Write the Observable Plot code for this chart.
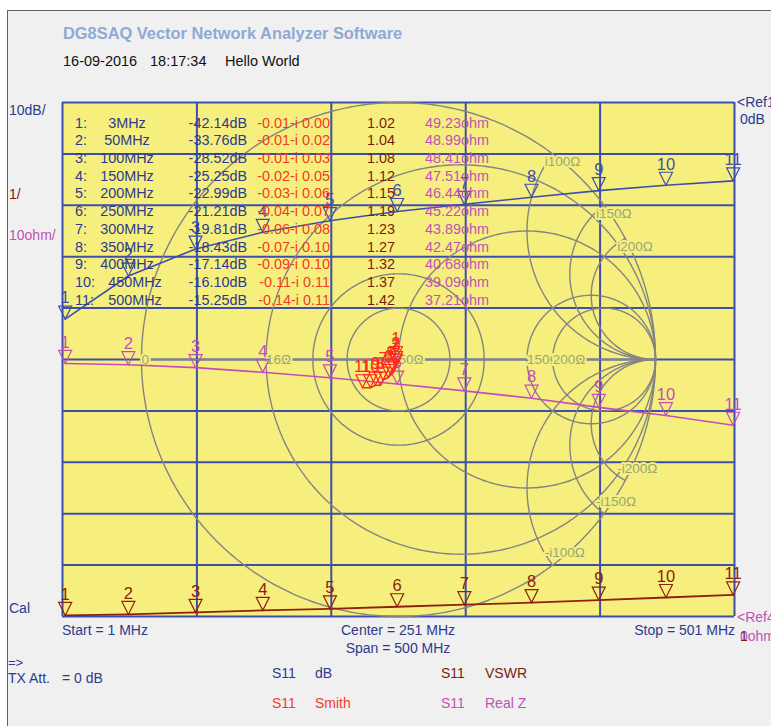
<!DOCTYPE html>
<html><head><meta charset="utf-8">
<script src="https://cdn.jsdelivr.net/npm/d3@7"></script>
<script src="https://cdn.jsdelivr.net/npm/@observablehq/plot@0.6"></script>
<style>
body{margin:0;background:#fff;}
#root{position:relative;width:771px;height:726px;overflow:hidden;background:#fff;font-family:"Liberation Sans",Arial,sans-serif;}
#panel{position:absolute;left:7px;top:10px;right:0;bottom:0;background:#f0f0f0;border-left:1px solid #5e5e5e;border-top:1px solid #5e5e5e;}
#chart{position:absolute;left:0;top:0;}
.t{position:absolute;line-height:1;white-space:pre;}
</style></head><body><div id="root"><div id="panel"></div><div id="chart"></div></div>
<script>
// ---- data ----
const markerFreqs = [3, 50, 100, 150, 200, 250, 300, 350, 400, 450, 500];           // MHz
const s11dB      = [-42.14, -33.76, -28.52, -25.25, -22.99, -21.21, -19.81, -18.43, -17.14, -16.10, -15.25];
const smithRe    = [-0.01, -0.01, -0.01, -0.02, -0.03, -0.04, -0.06, -0.07, -0.09, -0.11, -0.14];
const smithIm    = [0.00, -0.02, -0.03, -0.05, -0.06, -0.07, -0.08, -0.10, -0.10, -0.11, -0.11];
const vswr       = [1.02, 1.04, 1.08, 1.12, 1.15, 1.19, 1.23, 1.27, 1.32, 1.37, 1.42];
const realZ      = [49.23, 48.99, 48.41, 47.51, 46.44, 45.22, 43.89, 42.47, 40.68, 39.09, 37.21];

const fStart = 1, fStop = 501;
const gridFreqs = [1, 101, 201, 301, 401, 501];
const gridDivs = [0,1,2,3,4,5,6,7,8,9,10];
const dbRef = 0, dbPerDiv = 10;      // reference at top
const vswrRef = 1, vswrPerDiv = 1;   // reference at bottom
const zRef = 0, zPerDiv = 10;        // reference at bottom

// Smith chart grid (normalised to 50 ohm)
const resCircles = [0, 0.32, 1, 3, 4];
const resLabels = ["0", "16Ω", "50Ω", "150Ω", "200Ω"];
const reactArcs = [2, 3, 4, -2, -3, -4];
const reactLabels = ["i100Ω", "i150Ω", "i200Ω", "-i100Ω", "-i150Ω", "-i200Ω"];
const gammaCircles = [0.2, 1/3];

// ---- colours ----
const BLUE = "#3d4fab", TBLUE = "#2d3a8e", RED = "#ff2a1c", TRED = "#f23b25",
      BROWN = "#8f200d", TBROWN = "#7b1d0d", MAG = "#c54cbc", TMAG = "#c152b6",
      YEL = "#f6ef7e", GREY = "#848484", LBL = "#97a67a";

// ---- layout ----
const W = 771, H = 726, mT = 102, mB = 110, mL = 62, mR = 37;
const plotW = W - mL - mR, plotH = H - mT - mB;
const centerF = (fStart + fStop) / 2;
const halfF = (plotH / 2) * (fStop - fStart) / plotW;   // Smith radius expressed in x units
const sx = g => centerF + g * halfF;
const sy = g => 5 + g * 5;

const divDB = v => 10 + (v - dbRef) / dbPerDiv;
const divVSWR = v => (v - vswrRef) / vswrPerDiv;
const divZ = v => (v - zRef) / zPerDiv;

const rows = markerFreqs.map((f, i) => ({
  n: i + 1, f, db: s11dB[i], re: smithRe[i], im: smithIm[i], vswr: vswr[i], z: realZ[i]
}));

// Smith grid geometry
const grid = [];
resCircles.forEach((r, k) => {
  const c = r / (1 + r), rad = 1 / (1 + r);
  for (let a = 0; a <= 360; a += 1) {
    const t = a * Math.PI / 180;
    grid.push({id: "r" + k, gr: c + rad * Math.cos(t), gi: rad * Math.sin(t)});
  }
});
gammaCircles.forEach((g, k) => {
  for (let a = 0; a <= 360; a += 1) {
    const t = a * Math.PI / 180;
    grid.push({id: "g" + k, gr: g * Math.cos(t), gi: g * Math.sin(t)});
  }
});
const reactEnds = reactArcs.map(x => ({x, gr: (x*x - 1) / (x*x + 1), gi: 2*x / (x*x + 1)}));
reactArcs.forEach((x, k) => {
  const cy = 1 / x, rad = 1 / Math.abs(x);
  const e = reactEnds[k];
  let ae = Math.atan2(e.gi - cy, e.gr - 1) * 180 / Math.PI; if (ae < 0) ae += 360;
  const a1 = x > 0 ? 270 : 90;
  const lo = Math.min(ae, a1), hi = Math.max(ae, a1);
  for (let s = 0; s <= 200; s++) {
    const t = (lo + (hi - lo) * s / 200) * Math.PI / 180;
    grid.push({id: "x" + k, gr: 1 + rad * Math.cos(t), gi: cy + rad * Math.sin(t)});
  }
});
grid.push({id: "axis", gr: -1, gi: 0}, {id: "axis", gr: 1, gi: 0});

const resLabelData = resCircles.map((r, k) => ({gr: (r - 1) / (r + 1), gi: 0, t: resLabels[k]}));
const reactLabelData = reactEnds.map((e, k) => ({...e, t: reactLabels[k]}));

// downward pointing marker triangle, tip on the data point
const downTri = {draw(ctx) { ctx.moveTo(-6.5, -13); ctx.lineTo(6.5, -13); ctx.lineTo(0, 0); ctx.closePath(); }};
const MF = "'Liberation Sans Narrow','Liberation Sans',Arial,sans-serif";

function markers(xf, yf, color) {
  return [
    Plot.dot(rows, {x: xf, y: yf, symbol: downTri, stroke: color, strokeWidth: 1.2, fill: "none"}),
    Plot.text(rows, {x: xf, y: yf, text: d => String(d.n), fill: color, dy: -21, fontSize: 16.5, fontFamily: MF, letterSpacing: -0.8})
  ];
}

const chart = Plot.plot({
  width: W, height: H,
  marginTop: mT, marginBottom: mB, marginLeft: mL, marginRight: mR,
  style: {background: "transparent", overflow: "visible"},
  x: {domain: [fStart, fStop], axis: null},
  y: {domain: [0, 10], axis: null},
  marks: [
    Plot.frame({fill: YEL, stroke: "none"}),
    Plot.ruleX(gridFreqs, {stroke: BLUE, strokeWidth: 2}),
    Plot.ruleY(gridDivs, {stroke: BLUE, strokeWidth: 2}),
    Plot.line(grid, {x: d => sx(d.gr), y: d => sy(d.gi), z: "id", stroke: GREY, strokeWidth: 1.4}),
    Plot.text(resLabelData, {x: d => sx(d.gr), y: d => sy(d.gi), text: "t", textAnchor: "start", dx: 0,
      fill: LBL, stroke: YEL, strokeWidth: 4, paintOrder: "stroke", fontSize: 13.5, fontFamily: "Liberation Sans, Arial"}),
    Plot.text(reactLabelData.filter(d => d.x > 0), {x: d => sx(d.gr), y: d => sy(d.gi), text: "t", textAnchor: "start", dx: -8, dy: 8,
      fill: LBL, stroke: YEL, strokeWidth: 4, paintOrder: "stroke", fontSize: 13.5, fontFamily: "Liberation Sans, Arial"}),
    Plot.text(reactLabelData.filter(d => d.x < 0), {x: d => sx(d.gr), y: d => sy(d.gi), text: "t", textAnchor: "start", dx: -8, dy: -12,
      fill: LBL, stroke: YEL, strokeWidth: 4, paintOrder: "stroke", fontSize: 13.5, fontFamily: "Liberation Sans, Arial"}),
    // traces
    Plot.line(rows, {x: "f", y: d => divZ(d.z), stroke: MAG, strokeWidth: 1.6}),
    ...markers("f", d => divZ(d.z), MAG),
    Plot.line(rows, {x: "f", y: d => divVSWR(d.vswr), stroke: BROWN, strokeWidth: 1.8}),
    ...markers("f", d => divVSWR(d.vswr), BROWN),
    Plot.line(rows, {x: "f", y: d => divDB(d.db), stroke: BLUE, strokeWidth: 1.6}),
    ...markers("f", d => divDB(d.db), BLUE),
    Plot.line(rows, {x: d => sx(d.re), y: d => sy(d.im), stroke: RED, strokeWidth: 1.6}),
    ...markers(d => sx(d.re), d => sy(d.im), RED)
  ]
});
document.getElementById("chart").appendChild(chart);

// ---- text overlays ----
const root = document.getElementById("root");
function put(text, x, yc, {size = 14, color = TBLUE, anchor = "start", weight = "normal", font} = {}) {
  const s = document.createElement("span");
  s.className = "t";
  s.textContent = text;
  s.style.fontSize = size + "px";
  s.style.color = color;
  s.style.fontWeight = weight;
  if (font) s.style.fontFamily = font;
  s.style.left = x + "px";
  s.style.top = (yc - size / 2) + "px";
  if (anchor === "end") s.style.transform = "translateX(-100%)";
  if (anchor === "middle") s.style.transform = "translateX(-50%)";
  root.appendChild(s);
}

put("DG8SAQ Vector Network Analyzer Software", 63, 33.5, {size: 16.4, color: "#8eaad4", weight: "bold"});
put("16-09-2016", 63, 61.5, {size: 14.5, color: "#111"});
put("18:17:34", 150, 61.5, {size: 14.5, color: "#111"});
put("Hello World", 225, 61.5, {size: 14.5, color: "#111"});

// scale annotations
put("10dB/", 9, 110, {size: 14, color: TBLUE});
put("1/", 9, 194, {size: 14, color: TBROWN});
put("10ohm/", 9, 235, {size: 14, color: TMAG});
put("Cal", 9, 608, {size: 14, color: TBLUE});
put("<Ref1", 737, 102, {size: 14, color: TBLUE});
put("0dB", 740, 119, {size: 14, color: TBLUE});
put("<Ref4", 737, 617, {size: 14, color: TMAG});
put("0ohm", 740, 636, {size: 14, color: TMAG});
put("1", 740, 636, {size: 14, color: TBROWN});

// sweep info
put(`Start = ${fStart} MHz`, 62, 630, {size: 14});
put(`Center = ${centerF} MHz`, 398, 630, {size: 14, anchor: "middle"});
put(`Span = ${fStop - fStart} MHz`, 398, 647.5, {size: 14, anchor: "middle"});
put(`Stop = ${fStop} MHz`, 735, 630, {size: 14, anchor: "end"});
put("=>", 8, 662, {size: 13});
put("TX Att.", 8, 678, {size: 14});
put("= 0 dB", 62, 678, {size: 14});

// legend
put("S11", 272, 673, {size: 14, color: TBLUE});  put("dB", 315, 673, {size: 14, color: TBLUE});
put("S11", 272, 703, {size: 14, color: TRED});   put("Smith", 315, 703, {size: 14, color: TRED});
put("S11", 441, 673, {size: 14, color: TBROWN}); put("VSWR", 485, 673, {size: 14, color: TBROWN});
put("S11", 441, 703, {size: 14, color: TMAG});   put("Real Z", 485, 703, {size: 14, color: TMAG});

// marker table
rows.forEach((d, i) => {
  const yc = 122.7 + 17.73 * i;
  put(`${d.n}:`, 75, yc, {size: 14.4, color: TBLUE});
  put(`${d.f}MHz`, d.n >= 10 ? 135 : 127, yc, {size: 14.4, color: TBLUE, anchor: "middle"});
  put(`${d.db.toFixed(2)}dB`, 247, yc, {size: 14.4, color: TBLUE, anchor: "end"});
  put(`${d.re.toFixed(2)}-i ${Math.abs(d.im).toFixed(2)}`, 330, yc, {size: 14.4, color: TRED, anchor: "end"});
  put(d.vswr.toFixed(2), 395, yc, {size: 14.4, color: TBROWN, anchor: "end"});
  put(`${d.z.toFixed(2)}ohm`, 425, yc, {size: 14.4, color: TMAG});
});
</script>
</body></html>
